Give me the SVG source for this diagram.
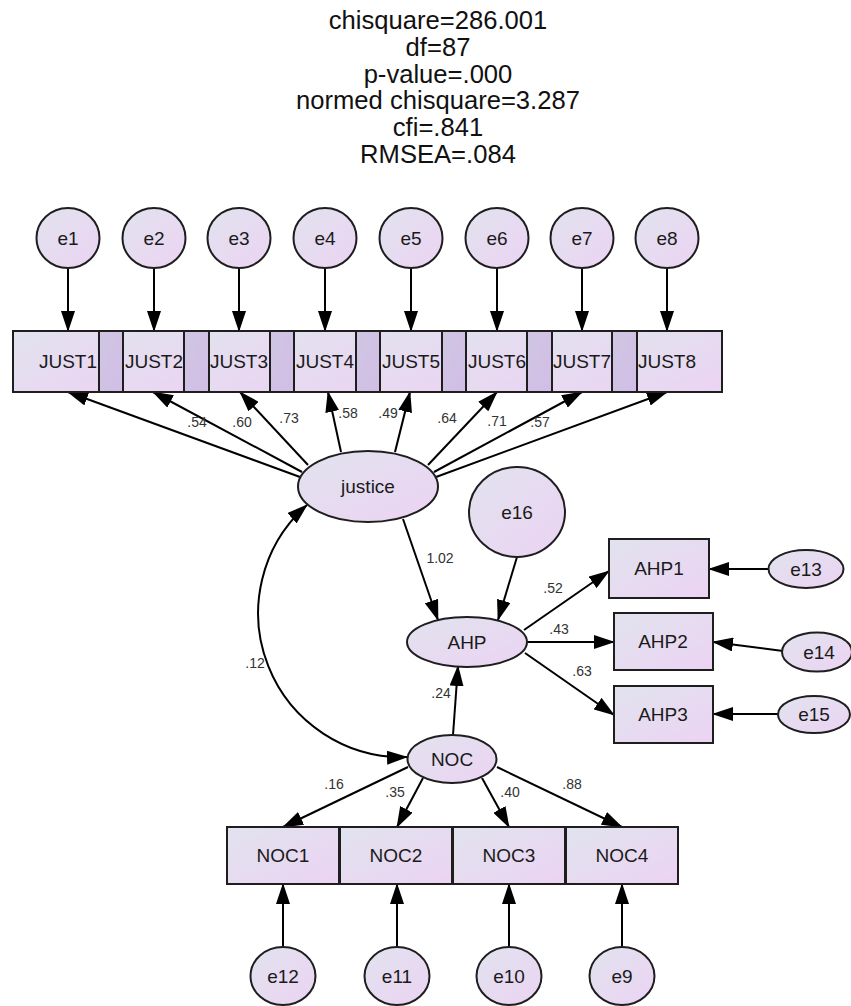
<svg xmlns="http://www.w3.org/2000/svg" width="851" height="1006" viewBox="0 0 851 1006">
<defs>
<linearGradient id="g" x1="0" y1="0" x2="1" y2="1">
<stop offset="0" stop-color="#e1e3ee"/>
<stop offset="1" stop-color="#ecd3f3"/>
</linearGradient>
<linearGradient id="gd" x1="0" y1="0" x2="1" y2="1">
<stop offset="0" stop-color="#cfc6e2"/>
<stop offset="1" stop-color="#d2bde6"/>
</linearGradient>
<marker id="ah" viewBox="0 0 21 14" refX="20" refY="7" markerWidth="21" markerHeight="14" markerUnits="userSpaceOnUse" orient="auto-start-reverse">
<path d="M0,0 L21,7 L0,14 z" fill="#000"/>
</marker>
<style>
.n{fill:url(#g);stroke:#1e1e1e;stroke-width:2}
.ov{fill:url(#gd);stroke:#1e1e1e;stroke-width:2}
.t{font-family:"Liberation Sans",Arial,sans-serif;font-size:19px;fill:#1a1a1a;text-anchor:middle}
.l{font-family:"Liberation Sans",Arial,sans-serif;font-size:14px;fill:#333;text-anchor:middle}
.h{font-family:"Liberation Sans",Arial,sans-serif;font-size:25.6px;fill:#111;text-anchor:middle}
.c{fill:none;stroke:#000;stroke-width:2;marker-end:url(#ah)}
</style>
</defs>
<rect width="851" height="1006" fill="#fff"/>
<g id="title">
<text class="h" x="438" y="29">chisquare=286.001</text>
<text class="h" x="438" y="56">df=87</text>
<text class="h" x="438" y="83">p-value=.000</text>
<text class="h" x="438" y="109">normed chisquare=3.287</text>
<text class="h" x="438" y="136">cfi=.841</text>
<text class="h" x="438" y="163">RMSEA=.084</text>
</g>
<g id="connectors">
<path class="c" d="M68 268 L68 331"/>
<path class="c" d="M154 268 L154 331"/>
<path class="c" d="M239 268 L239 331"/>
<path class="c" d="M325 268 L325 331"/>
<path class="c" d="M411 268 L411 331"/>
<path class="c" d="M497 268 L497 331"/>
<path class="c" d="M582 268 L582 331"/>
<path class="c" d="M667 268 L667 331"/>
<path class="c" d="M300 477 L68 392"/>
<path class="c" d="M302 472 L153 392"/>
<path class="c" d="M308 465 L240 392"/>
<path class="c" d="M341 452 L328 392"/>
<path class="c" d="M395 452 L410 392"/>
<path class="c" d="M428 465 L497 392"/>
<path class="c" d="M434 472 L582 392"/>
<path class="c" d="M436 477 L667 392"/>
<path class="c" d="M403 519 L438 620"/>
<path class="c" d="M517 557 L498 620"/>
<path class="c" d="M524 630 L609 571"/>
<path class="c" d="M527 642 L614 642"/>
<path class="c" d="M525 653 L614 715"/>
<path class="c" d="M768 569 L709 569"/>
<path class="c" d="M783 651 L713 642"/>
<path class="c" d="M778 714 L713 714"/>
<path class="c" d="M453 735 L458 666"/>
<path class="c" d="M307 505 A144 144 0 0 0 407 757" style="marker-start:url(#ah)"/>
<path class="c" d="M408 767 L283 827"/>
<path class="c" d="M423 778 L397 827"/>
<path class="c" d="M482 778 L509 827"/>
<path class="c" d="M497 767 L622 827"/>
<path class="c" d="M283 947 L283 884"/>
<path class="c" d="M397 947 L397 884"/>
<path class="c" d="M509 947 L509 884"/>
<path class="c" d="M622 947 L622 884"/>
</g>
<g id="labels">
<text class="l" x="197" y="427">.54</text>
<text class="l" x="242" y="427">.60</text>
<text class="l" x="289" y="423">.73</text>
<text class="l" x="348" y="418">.58</text>
<text class="l" x="388" y="418">.49</text>
<text class="l" x="447" y="423">.64</text>
<text class="l" x="497" y="426">.71</text>
<text class="l" x="540" y="427">.57</text>
<text class="l" x="440" y="563">1.02</text>
<text class="l" x="553" y="593">.52</text>
<text class="l" x="559" y="634">.43</text>
<text class="l" x="582" y="676">.63</text>
<text class="l" x="441" y="698">.24</text>
<text class="l" x="255" y="668">.12</text>
<text class="l" x="334" y="789">.16</text>
<text class="l" x="395" y="797">.35</text>
<text class="l" x="510" y="797">.40</text>
<text class="l" x="572" y="789">.88</text>
</g>
<g id="e1"><ellipse class="n" cx="68" cy="238" rx="31.5" ry="30"/><text class="t" x="68" y="245">e1</text></g>
<g id="e2"><ellipse class="n" cx="154" cy="238" rx="31.5" ry="30"/><text class="t" x="154" y="245">e2</text></g>
<g id="e3"><ellipse class="n" cx="239" cy="238" rx="31.5" ry="30"/><text class="t" x="239" y="245">e3</text></g>
<g id="e4"><ellipse class="n" cx="325" cy="238" rx="31.5" ry="30"/><text class="t" x="325" y="245">e4</text></g>
<g id="e5"><ellipse class="n" cx="411" cy="238" rx="31.5" ry="30"/><text class="t" x="411" y="245">e5</text></g>
<g id="e6"><ellipse class="n" cx="497" cy="238" rx="31.5" ry="30"/><text class="t" x="497" y="245">e6</text></g>
<g id="e7"><ellipse class="n" cx="582" cy="238" rx="31.5" ry="30"/><text class="t" x="582" y="245">e7</text></g>
<g id="e8"><ellipse class="n" cx="667" cy="238" rx="31.5" ry="30"/><text class="t" x="667" y="245">e8</text></g>
<g id="JUST1"><rect class="n" x="13" y="331" width="110" height="61"/><text class="t" x="68" y="368">JUST1</text></g>
<g id="JUST2"><rect class="n" x="99" y="331" width="110" height="61"/><text class="t" x="154" y="368">JUST2</text></g>
<g id="JUST3"><rect class="n" x="184" y="331" width="110" height="61"/><text class="t" x="239" y="368">JUST3</text></g>
<g id="JUST4"><rect class="n" x="270" y="331" width="110" height="61"/><text class="t" x="325" y="368">JUST4</text></g>
<g id="JUST5"><rect class="n" x="356" y="331" width="110" height="61"/><text class="t" x="411" y="368">JUST5</text></g>
<g id="JUST6"><rect class="n" x="442" y="331" width="110" height="61"/><text class="t" x="497" y="368">JUST6</text></g>
<g id="JUST7"><rect class="n" x="527" y="331" width="110" height="61"/><text class="t" x="582" y="368">JUST7</text></g>
<g id="JUST8"><rect class="n" x="612" y="331" width="110" height="61"/><text class="t" x="667" y="368">JUST8</text></g>
<g id="overlaps">
<rect class="ov" x="99" y="331" width="24" height="61"/>
<rect class="ov" x="184" y="331" width="25" height="61"/>
<rect class="ov" x="270" y="331" width="24" height="61"/>
<rect class="ov" x="356" y="331" width="24" height="61"/>
<rect class="ov" x="442" y="331" width="24" height="61"/>
<rect class="ov" x="527" y="331" width="25" height="61"/>
<rect class="ov" x="612" y="331" width="25" height="61"/>
</g>
<g id="justice"><ellipse class="n" cx="368" cy="486.5" rx="70" ry="35.5"/><text class="t" x="368" y="493">justice</text></g>
<g id="e16"><ellipse class="n" cx="517" cy="512" rx="48" ry="45"/><text class="t" x="517" y="519">e16</text></g>
<g id="AHP"><ellipse class="n" cx="467" cy="642" rx="60" ry="25"/><text class="t" x="467" y="649">AHP</text></g>
<g id="AHP1"><rect class="n" x="609" y="539" width="100" height="59"/><text class="t" x="659" y="575">AHP1</text></g>
<g id="AHP2"><rect class="n" x="614" y="613" width="99" height="57"/><text class="t" x="663" y="648">AHP2</text></g>
<g id="AHP3"><rect class="n" x="614" y="686" width="99" height="57"/><text class="t" x="663" y="721">AHP3</text></g>
<g id="e13"><ellipse class="n" cx="806" cy="569" rx="37.5" ry="19"/><text class="t" x="806" y="576">e13</text></g>
<g id="e14"><ellipse class="n" cx="817" cy="652" rx="35" ry="19.5"/><text class="t" x="819" y="659">e14</text></g>
<g id="e15"><ellipse class="n" cx="814" cy="714.5" rx="36" ry="18.5"/><text class="t" x="814" y="721">e15</text></g>
<g id="NOC"><ellipse class="n" cx="452" cy="759" rx="44.5" ry="24"/><text class="t" x="452" y="766">NOC</text></g>
<g id="NOC1"><rect class="n" x="227" y="827" width="112" height="57"/><text class="t" x="283" y="862">NOC1</text></g>
<g id="NOC2"><rect class="n" x="340" y="827" width="112" height="57"/><text class="t" x="396" y="862">NOC2</text></g>
<g id="NOC3"><rect class="n" x="453" y="827" width="112" height="57"/><text class="t" x="509" y="862">NOC3</text></g>
<g id="NOC4"><rect class="n" x="566" y="827" width="112" height="57"/><text class="t" x="622" y="862">NOC4</text></g>
<g id="e12"><ellipse class="n" cx="283" cy="976" rx="32.5" ry="29"/><text class="t" x="283" y="983">e12</text></g>
<g id="e11"><ellipse class="n" cx="397" cy="976" rx="32.5" ry="29"/><text class="t" x="397" y="983">e11</text></g>
<g id="e10"><ellipse class="n" cx="509" cy="976" rx="32.5" ry="29"/><text class="t" x="509" y="983">e10</text></g>
<g id="e9"><ellipse class="n" cx="622" cy="976" rx="32.5" ry="29"/><text class="t" x="622" y="983">e9</text></g>
</svg>
